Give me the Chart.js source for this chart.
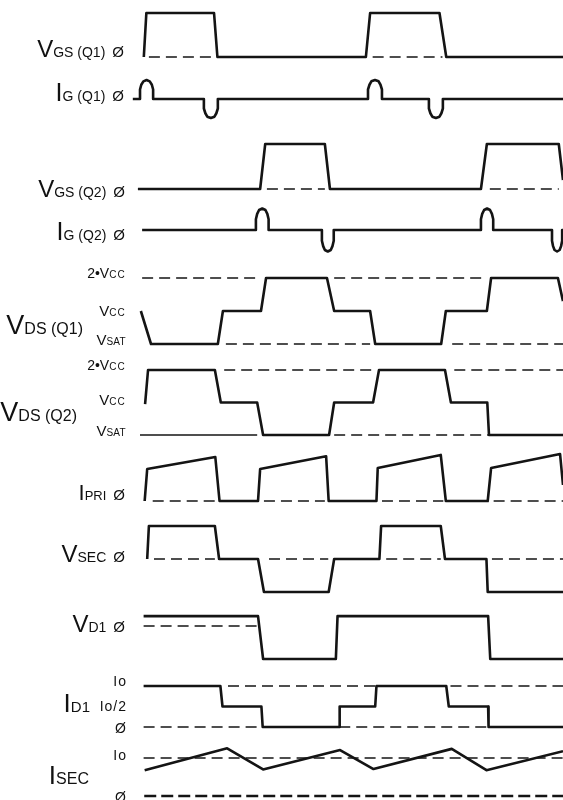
<!DOCTYPE html>
<html>
<head>
<meta charset="utf-8">
<script src="https://cdn.jsdelivr.net/npm/chart.js@4/dist/chart.umd.min.js"></script>
<style>
  body { margin: 0; background: #fff; }
  #wrap { position: relative; width: 563px; height: 800px; overflow: hidden; }
  #wrap canvas { position: absolute; left: 0; top: 0; }
  .lbl { position: absolute; white-space: nowrap; color: #111; line-height: 1;
         font-family: "Liberation Sans", Arial, Helvetica, sans-serif; }
  .lbl span { line-height: 1; }
</style>
</head>
<body>
<div id="wrap"><canvas id="timing" width="563" height="800"></canvas></div>
<script>
// time runs 0..100 across the drawing, levels are in each signal's own units
// waveform points: [time, level]
const vgsQ1 = [[0.9,0],[1.5,1],[17.5,1],[18.3,0],[53.4,0],[54.4,1],[70.8,1],[72.4,0],[100,0]];
const igQ1 = [[-1.7,0],[0,0],[0,0.5],[0.3,0.75],[0.8,0.93],[1.55,1],[2.3,0.93],[2.8,0.75],[3.1,0.5],[3.1,0],
  [15.1,0],[15.1,-0.5],[15.45,-0.75],[15.9,-0.93],[16.75,-1],[17.6,-0.93],[18.05,-0.75],[18.4,-0.5],[18.4,0],
  [53.9,0],[53.9,0.5],[54.25,0.75],[54.7,0.93],[55.55,1],[56.4,0.93],[56.85,0.75],[57.2,0.5],[57.2,0],
  [68.3,0],[68.3,-0.5],[68.65,-0.75],[69.1,-0.93],[69.95,-1],[70.8,-0.93],[71.25,-0.75],[71.6,-0.5],[71.6,0],[100,0]];
const vgsQ2 = [[-0.5,0],[28.4,0],[29.6,1],[43.7,1],[44.9,0],[80.6,0],[82,1],[99,1],[100,0.2]];
const igQ2 = [[0.5,0],[27.4,0],[27.4,0.5],[27.7,0.75],[28.15,0.93],[28.9,1],[29.65,0.93],[30.1,0.75],[30.4,0.5],[30.4,0],
  [43,0],[43,-0.5],[43.3,-0.75],[43.7,-0.93],[44.4,-1],[45.1,-0.93],[45.5,-0.75],[45.8,-0.5],[45.8,0],
  [80.6,0],[80.6,0.5],[80.9,0.75],[81.35,0.93],[82.05,1],[82.75,0.93],[83.2,0.75],[83.5,0.5],[83.5,0],
  [97.4,0],[97.4,-0.5],[97.65,-0.75],[98,-0.93],[98.6,-1],[99.2,-0.93],[99.55,-0.75],[99.8,-0.5],[99.8,0],[100,0]];
// VDS levels: 0 = Vsat, 1 = Vcc, 2 = 2*Vcc
const vdsQ1 = [[0.2,1],[2.6,0],[18.4,0],[19.6,1],[28.6,1],[29.8,2],[44.2,2],[45.9,1],[54.4,1],[55.6,0],
  [71.2,0],[72.3,1],[82,1],[83,2],[98.8,2],[100,1.3]];
const vdsQ2 = [[1.2,0.95],[1.9,2],[17.7,2],[19.1,1],[27.7,1],[29.1,0],[44.7,0],[45.9,1],[55.1,1],[56.5,2],
  [72.1,2],[73.5,1],[82.1,1],[82.5,0],[100,0]];
const ipri = [[1.1,0],[1.7,1],[17.8,1.375],[18.8,0],[27.9,0],[28.4,1],[44,1.4],[44.6,0],[55.9,0],[56.2,1.03],
  [71.1,1.44],[72.3,0],[82.2,0],[83,1.03],[99.3,1.47],[100,0.5]];
const vsec = [[1.7,0],[2.1,1],[17.7,1],[18.7,0],[27.9,0],[29.3,-1],[44.6,-1],[45.9,0],[56.6,0],[57,1],
  [71.1,1],[72.1,0],[81.9,0],[82.2,-1],[100,-1]];
const vd1 = [[0.85,0.3],[27.9,0.3],[29.1,-1],[46.3,-1],[46.7,0.3],[82.3,0.3],[82.8,-1],[100,-1]];
// ID1 levels: 0, Io/2 = 0.5, Io = 1
const id1 = [[0.85,1],[19,1],[19.5,0.5],[28.7,0.5],[29,0],[47.1,0],[47.2,0.5],[55.6,0.5],[55.9,1],
  [72.4,1],[73,0.5],[82.3,0.5],[82.4,0],[100,0]];
const isec = [[1.1,0.68],[20.6,1.255],[29.1,0.7],[47.3,1.21],[55.2,0.71],[73.7,1.24],[81.9,0.68],[100,1.18]];

// dashed reference spans: [from, to] in time
const vgsQ1Zero = [[2.1,17.6],[55,71.5]];
const vgsQ2Zero = [[30,43.7],[82.7,99]];
const vdsQ1Top = [[0.5,28.6],[45.9,82]];
const vdsQ1Sat = [[20.3,54.4],[73.8,100]];
const vdsQ2Top = [[19.9,55.1],[74.3,100]];
const vdsQ2SatSolid = [[0,27.7]];
const vdsQ2Sat = [[45.9,82.5]];
const ipriZero = [[3,17.7],[29.3,43.7],[57.2,71.7],[83.6,100]];
const vsecZero = [[3.3,17.7],[30.5,44.5],[58.2,71.1],[83.2,100]];
const vd1Zero = [[0.85,27.6]];
const id1Top = [[20.8,55.6],[73.4,100]];
const id1Zero = [[0.85,28.9],[47.1,82.3]];
const isecTop = [[0.85,100]];
const isecZero = [[1,100]];

// where each trace sits on the page (y axis runs 0..800 top to bottom)
const rows = {
  vgsQ1: { base: 57, unit: 44 },
  igQ1:  { base: 99, unit: 19 },
  vgsQ2: { base: 189, unit: 45 },
  igQ2:  { base: 230, unit: 21.5 },
  vdsQ1: { base: 344, unit: 33 },
  vdsQ2: { base: 435, unit: 32.5 },
  ipri:  { base: 501, unit: 32 },
  vsec:  { base: 559, unit: 33 },
  vd1:   { base: 626, unit: 33 },
  id1:   { base: 727, unit: 41 },
  isec:  { base: 796, unit: 38 }
};

// label parts: [text, font size, gap before, letter spacing]
const labels = [
  { parts: [['V',24],['GS (Q1)',14],['Ø',15,7]], right: 124, base: 57 },
  { parts: [['I',25],['G (Q1)',14],['Ø',15,7]], right: 124, base: 101 },
  { parts: [['V',24],['GS (Q2)',14],['Ø',15,7]], right: 125, base: 197 },
  { parts: [['I',25],['G (Q2)',14],['Ø',15,7]], right: 125, base: 240 },
  { parts: [['2•V',14],['CC',10,0,1.2]], right: 126, base: 278 },
  { parts: [['V',15],['CC',10,0,1.2]], right: 126, base: 316 },
  { parts: [['V',27],['DS (Q1)',16]], right: 83, base: 335 },
  { parts: [['V',15],['SAT',10,0,0.3]], right: 126, base: 345 },
  { parts: [['2•V',14],['CC',10,0,1.2]], right: 126, base: 370 },
  { parts: [['V',15],['CC',10,0,1.2]], right: 126, base: 405 },
  { parts: [['V',27],['DS (Q2)',16]], right: 77, base: 422 },
  { parts: [['V',15],['SAT',10,0,0.3]], right: 126, base: 436 },
  { parts: [['I',22],['PRI',13],['Ø',15,7]], right: 125, base: 501 },
  { parts: [['V',24],['SEC',14],['Ø',15,7]], right: 125, base: 562 },
  { parts: [['V',24],['D1',14],['Ø',15,7]], right: 125, base: 632 },
  { parts: [['Io',14,0,1]], right: 127, base: 686 },
  { parts: [['I',26],['D1',15]], right: 90, base: 712 },
  { parts: [['Io/2',14,0,1]], right: 127, base: 711 },
  { parts: [['Ø',14]], right: 126, base: 733 },
  { parts: [['Io',14,0,1]], right: 127, base: 760 },
  { parts: [['I',26],['SEC',16]], right: 89, base: 784 },
  { parts: [['Ø',14]], right: 126, base: 802 }
];

const ink = '#141414';

function wave(points, row) {
  return {
    data: points.map(p => ({ x: p[0], y: row.base - p[1] * row.unit })),
    borderColor: ink, borderWidth: 2.6, borderJoinStyle: 'round', borderCapStyle: 'butt',
    pointRadius: 0, order: 0
  };
}

function ref(spans, level, row, dash, width) {
  const data = [];
  spans.forEach(s => {
    data.push({ x: s[0], y: row.base - level * row.unit });
    data.push({ x: s[1], y: row.base - level * row.unit });
    data.push({ x: s[1], y: null });
  });
  return {
    data: data, borderColor: ink, borderWidth: width || 1.4, borderDash: dash,
    pointRadius: 0, spanGaps: false, order: 1
  };
}

const dash = [11, 6];
const datasets = [
  wave(vgsQ1, rows.vgsQ1), ref(vgsQ1Zero, 0, rows.vgsQ1, dash),
  wave(igQ1, rows.igQ1),
  wave(vgsQ2, rows.vgsQ2), ref(vgsQ2Zero, 0, rows.vgsQ2, dash),
  wave(igQ2, rows.igQ2),
  wave(vdsQ1, rows.vdsQ1), ref(vdsQ1Top, 2, rows.vdsQ1, dash), ref(vdsQ1Sat, 0, rows.vdsQ1, dash),
  wave(vdsQ2, rows.vdsQ2), ref(vdsQ2Top, 2, rows.vdsQ2, dash), ref(vdsQ2SatSolid, 0, rows.vdsQ2, []),
  ref(vdsQ2Sat, 0, rows.vdsQ2, dash),
  wave(ipri, rows.ipri), ref(ipriZero, 0, rows.ipri, dash),
  wave(vsec, rows.vsec), ref(vsecZero, 0, rows.vsec, dash),
  wave(vd1, rows.vd1), ref(vd1Zero, 0, rows.vd1, dash),
  wave(id1, rows.id1), ref(id1Top, 1, rows.id1, dash), ref(id1Zero, 0, rows.id1, dash),
  wave(isec, rows.isec), ref(isecTop, 1, rows.isec, dash), ref(isecZero, 0, rows.isec, [12, 5], 2.6)
];

new Chart(document.getElementById('timing'), {
  type: 'line',
  data: { datasets: datasets },
  options: {
    responsive: false,
    animation: false,
    devicePixelRatio: 1,
    layout: { padding: 0 },
    plugins: { legend: { display: false }, tooltip: { enabled: false } },
    scales: {
      x: { type: 'linear', min: -33.1, max: 100, display: false },
      y: { type: 'linear', min: 0, max: 800, reverse: true, display: false }
    }
  }
});

// text labels on the left
const wrap = document.getElementById('wrap');
labels.forEach(l => {
  const div = document.createElement('div');
  div.className = 'lbl';
  const size = l.parts[0][1];
  div.style.fontSize = size + 'px';
  div.style.right = (563 - l.right) + 'px';
  div.style.top = (l.base - 0.8465 * size) + 'px';
  l.parts.forEach(p => {
    const span = document.createElement('span');
    span.textContent = p[0];
    span.style.fontSize = p[1] + 'px';
    if (p[2]) span.style.marginLeft = p[2] + 'px';
    if (p[3]) span.style.letterSpacing = p[3] + 'px';
    div.appendChild(span);
  });
  wrap.appendChild(div);
});
</script>
</body>
</html>
